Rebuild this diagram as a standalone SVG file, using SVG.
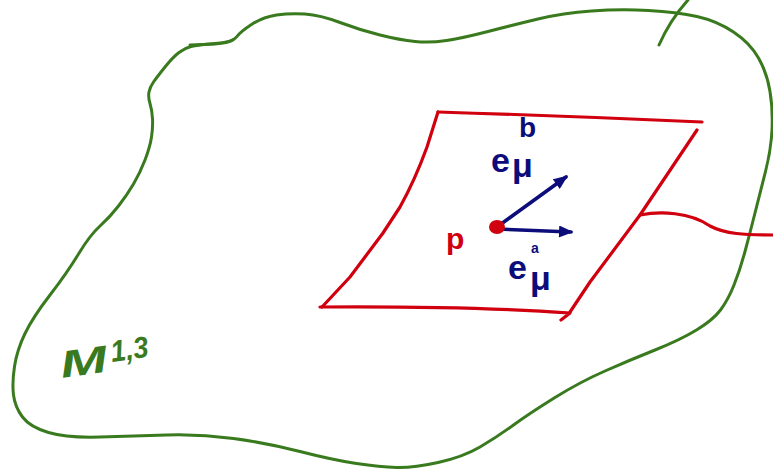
<svg xmlns="http://www.w3.org/2000/svg" width="773" height="475" viewBox="0 0 773 475">
<style>
.g{fill:none;stroke:#3a7a1f;stroke-width:3;stroke-linecap:round;stroke-linejoin:round}
.r{fill:none;stroke:#d0000f;stroke-width:3.2;stroke-linecap:round;stroke-linejoin:round}
.b{fill:none;stroke:#0c0c7a;stroke-width:3.6;stroke-linecap:round}
.tb{fill:#0c0c7a;font-family:"Liberation Sans",Arial,sans-serif;font-weight:bold}
.tr{fill:#d0000f;font-family:"Liberation Sans",Arial,sans-serif;font-weight:bold}
.tg{fill:#3a7a1f;font-family:"Liberation Sans",Arial,sans-serif;font-weight:bold;font-style:italic}
</style>
<defs>
<marker id="ah" viewBox="0 0 12 10" refX="10" refY="5" markerWidth="15" markerHeight="12" markerUnits="userSpaceOnUse" orient="auto">
<path d="M0,0 L12,5 L0,10 Z" fill="#0c0c7a"/>
</marker>
</defs>
<g id="manifold">
<path class="g" d="M191,46.5 Q197,45 215,43.5 Q233,42 236.5,37 Q240,32 251.5,24.5 Q263,17 276.5,15 Q290,13 305,14 Q320,15 340,22.5 Q360,30 380,35 Q400,40 415,41.5 Q430,43 446.5,40.5 Q463,38 488,31.5 Q513,25 538,19 Q563,13 591.5,11 Q620,9 648.5,10.5 Q677,12 697,16.5 Q717,21 733.5,32 Q750,43 758.5,58 Q767,73 770,91.5 Q773,110 772,130 Q771,150 765.5,171.5 Q760,193 755,213 Q750,233 745,251.5 Q740,270 734,285 Q728,300 720.5,310 Q713,320 696.5,330 Q680,340 655,350 Q630,360 605,371 Q580,382 555,397.5 Q530,413 513.5,425 Q497,437 480,447 Q463,457 438,462.5 Q413,468 396.5,467.5 Q380,467 356.5,463.5 Q333,460 300,451.5 Q267,443 233.5,438.5 Q200,434 166.5,435 Q133,436 100,437 Q67,438 48.5,432.5 Q30,427 22.5,417 Q15,407 13.5,395 Q12,383 14.5,366.5 Q17,350 25,333.5 Q33,317 50,295 Q67,273 78.5,254 Q90,235 100,226 Q110,217 118.5,206 Q127,195 133.5,184 Q140,173 145,160 Q150,147 151.5,137 Q153,127 152.5,118.5 Q152,110 150,103.5 Q148,97 149,92 Q150,87 153.5,82 Q157,77 165,67 Q173,57 179,52.5 Q185,48 191,46.5 Z"/>
<path class="g" stroke-width="4" d="M190,45 L215,44 Q228,43 233,40"/>
<path class="g" d="M659,45 Q670,20 688,0"/>
<text class="tg" x="62" y="378" font-size="38" textLength="47" lengthAdjust="spacingAndGlyphs" transform="rotate(-8 62 378)">M</text>
<text class="tg" x="112" y="362" font-size="30" textLength="38" lengthAdjust="spacingAndGlyphs" transform="rotate(-8 112 362)">1,3</text>
</g>
<g id="tangent-plane">
<path class="r" d="M438,112 Q570,116 702,122"/>
<path class="r" d="M438,112 L427,147 Q415,180 400,207 L383,233 L350,277 L322,307"/>
<path class="r" d="M320,307 Q470,306 570,313 L561,320"/>
<path class="r" d="M697,130 L640,215 L590,282 L570,312"/>
<path class="r" d="M640,215 C660,211 690,212 710,226 C725,234 745,235 773,235"/>
<text class="tr" x="446" y="249" font-size="30">p</text>
</g>
<g id="connectors">
<line class="b" x1="497" y1="227" x2="566" y2="177" marker-end="url(#ah)"/>
<line class="b" x1="497" y1="229" x2="571" y2="232" marker-end="url(#ah)"/>
</g>
<g id="point">
<ellipse cx="497" cy="227" rx="8" ry="7" fill="#d0000f"/>
</g>
<g id="labels">
<text class="tb" x="519" y="137" font-size="28">b</text>
<text class="tb" x="491" y="172" font-size="34">e</text>
<text class="tb" x="512" y="177" font-size="34">μ</text>
<text class="tb" x="531" y="253" font-size="14">a</text>
<text class="tb" x="508" y="279" font-size="34">e</text>
<text class="tb" x="530" y="290" font-size="34">μ</text>
</g>
</svg>
